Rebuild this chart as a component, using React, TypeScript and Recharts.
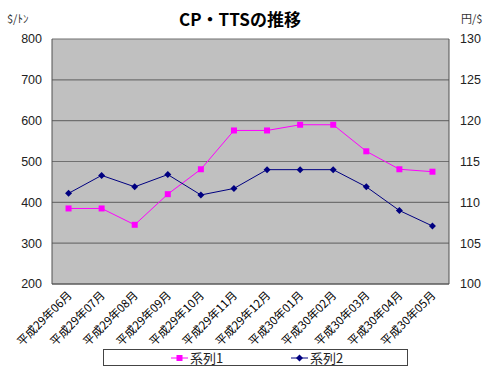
import React from "react";
import { LineChart, Line, XAxis, YAxis, CartesianGrid } from "recharts";

const categories = [
  "平成29年06月",
  "平成29年07月",
  "平成29年08月",
  "平成29年09月",
  "平成29年10月",
  "平成29年11月",
  "平成29年12月",
  "平成30年01月",
  "平成30年02月",
  "平成30年03月",
  "平成30年04月",
  "平成30年05月",
];
const series1 = [385, 385, 345, 420, 481, 576, 576, 590, 590, 525, 481, 475];
const series2 = [111.1, 113.3, 111.9, 113.4, 110.9, 111.7, 114.0, 114.0, 114.0, 111.9, 109.0, 107.1];
const seriesNames = ["系列1", "系列2"];
const leftTicks = [200, 300, 400, 500, 600, 700, 800];
const rightTicks = [100, 105, 110, 115, 120, 125, 130];
const boundaryTicks = [1, 2, 3, 4, 5, 6, 7, 8, 9, 10, 11];

const data = categories.map((month, i) => ({ month, s1: series1[i], s2: series2[i] }));

const PINK = "#ff00ff";
const NAVY = "#000080";
const FONT = '"Liberation Sans", "Noto Sans CJK JP", sans-serif';
const JP_FONT = '"Noto Sans CJK JP", sans-serif';

function MonthTick({ x, y, payload }: any) {
  const ax = x + 4;
  const ay = y + 12;
  return (
    <text
      x={ax}
      y={ay}
      transform={`rotate(-45, ${ax}, ${ay})`}
      textAnchor="end"
      fontSize={11.5}
      fontFamily={JP_FONT}
      fill="#000"
    >
      {payload.value}
    </text>
  );
}

function SquareDot({ cx, cy, index }: any) {
  if (cx == null || cy == null) return <g key={index} />;
  return <rect key={index} x={cx - 3} y={cy - 3} width={6} height={6} fill={PINK} />;
}

function DiamondDot({ cx, cy, index }: any) {
  if (cx == null || cy == null) return <g key={index} />;
  return (
    <polygon
      key={index}
      points={`${cx},${cy - 3.5} ${cx + 3.5},${cy} ${cx},${cy + 3.5} ${cx - 3.5},${cy}`}
      fill={NAVY}
    />
  );
}

function LegendItem({ color, name, square }: { color: string; name: string; square: boolean }) {
  return (
    <span style={{ display: "inline-flex", alignItems: "center" }}>
      <svg width={17} height={10} style={{ marginRight: 2 }}>
        <line x1={0} y1={5} x2={17} y2={5} stroke={color} strokeWidth={1} />
        {square ? (
          <rect x={5.5} y={2} width={6} height={6} fill={color} />
        ) : (
          <polygon points="8.5,1.5 12,5 8.5,8.5 5,5" fill={color} />
        )}
      </svg>
      <span style={{ fontSize: 13, fontFamily: JP_FONT, color: "#222" }}>{name}</span>
    </span>
  );
}

export default function App() {
  return (
    <div style={{ position: "absolute", left: 0, top: 0, width: 500, height: 377, background: "#fff" }}>
      <div
        style={{
          position: "absolute",
          left: 0,
          width: 480,
          top: 6,
          textAlign: "center",
          fontSize: 17,
          fontWeight: "bold",
          fontFamily: JP_FONT,
          color: "#000",
        }}
      >
        CP・TTSの推移
      </div>
      <div style={{ position: "absolute", left: 7, top: 10, fontSize: 11, fontFamily: JP_FONT, color: "#333" }}>
        $/ﾄﾝ
      </div>
      <div style={{ position: "absolute", left: 461, top: 10, fontSize: 11, fontFamily: JP_FONT, color: "#333" }}>
        円/$
      </div>
      <LineChart width={500} height={377} data={data} margin={{ top: 39, right: 0, left: 0, bottom: 0 }}>
        <CartesianGrid
          yAxisId="left"
          vertical={false}
          fill="#c0c0c0"
          fillOpacity={1}
          stroke="#707070"
          strokeWidth={1.2}
        />
        <XAxis
          dataKey="month"
          scale="band"
          height={93}
          interval={0}
          tickLine={false}
          tickSize={0}
          tickMargin={0}
          axisLine={{ stroke: "#505050" }}
          tick={<MonthTick />}
        />
        <XAxis
          xAxisId="bounds"
          type="number"
          domain={[0, 12]}
          ticks={boundaryTicks}
          interval={0}
          height={0}
          mirror
          tick={false}
          tickSize={4}
          tickLine={{ stroke: "#505050" }}
          axisLine={false}
        />
        <YAxis
          yAxisId="left"
          width={52}
          domain={[200, 800]}
          ticks={leftTicks}
          interval={0}
          tickLine={false}
          tickSize={0}
          tickMargin={10}
          axisLine={{ stroke: "#505050" }}
          tick={{ fill: "#222", fontSize: 12.5, fontFamily: FONT }}
        />
        <YAxis
          yAxisId="right"
          orientation="right"
          width={51}
          domain={[100, 130]}
          ticks={rightTicks}
          interval={0}
          tickLine={false}
          tickSize={0}
          tickMargin={11}
          axisLine={{ stroke: "#505050" }}
          tick={{ fill: "#222", fontSize: 12.5, fontFamily: FONT }}
        />
        <Line
          yAxisId="left"
          dataKey="s1"
          name={seriesNames[0]}
          stroke={PINK}
          strokeWidth={1}
          dot={<SquareDot />}
          activeDot={false}
          isAnimationActive={false}
        />
        <Line
          yAxisId="right"
          dataKey="s2"
          name={seriesNames[1]}
          stroke={NAVY}
          strokeWidth={1}
          dot={<DiamondDot />}
          activeDot={false}
          isAnimationActive={false}
        />
      </LineChart>
      <div
        style={{
          position: "absolute",
          left: 103,
          top: 349,
          width: 305,
          height: 17,
          border: "1px solid #444",
          boxSizing: "border-box",
          display: "flex",
          alignItems: "center",
          background: "#fff",
        }}
      >
        <div style={{ position: "absolute", left: 67 }}>
          <LegendItem color={PINK} name={seriesNames[0]} square />
        </div>
        <div style={{ position: "absolute", left: 187 }}>
          <LegendItem color={NAVY} name={seriesNames[1]} square={false} />
        </div>
      </div>
    </div>
  );
}
